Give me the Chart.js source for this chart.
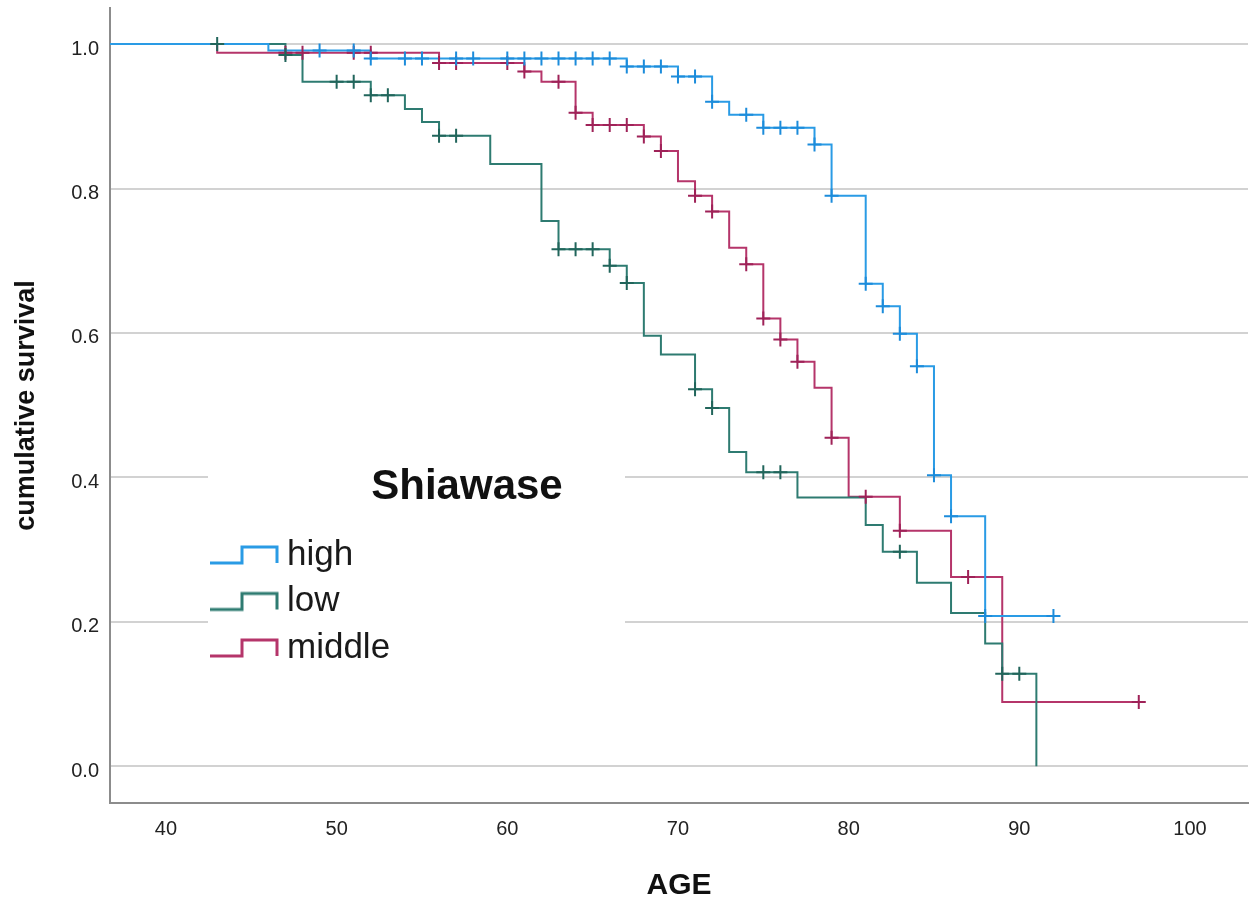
<!DOCTYPE html>
<html>
<head>
<meta charset="utf-8">
<script src="https://cdn.jsdelivr.net/npm/chart.js@4.4.1/dist/chart.umd.min.js"></script>
<style>
html,body{margin:0;padding:0;background:#fff;}
#wrap{width:1252px;height:901px;position:relative;}
</style>
</head>
<body>
<div id="wrap"><canvas id="c"></canvas></div>
<script>
// ---------- data ----------
const seriesNames = ['high', 'low', 'middle'];
const legendTitle = 'Shiawase';
const xTitle = 'AGE';
const yTitle = 'cumulative survival';

const highEventAges = [46, 52, 67, 70, 72, 73, 75, 78, 79, 81, 82, 83, 84, 85, 86, 88];
const highSurvival  = [0.991, 0.980, 0.969, 0.955, 0.920, 0.902, 0.884, 0.861, 0.790, 0.668, 0.637, 0.599, 0.554, 0.403, 0.346, 0.208];
const highCensorAges = [49, 51, 52, 54, 55, 57, 58, 60, 61, 62, 63, 64, 65, 66, 67, 68, 69, 70, 71, 72, 74, 75, 76, 77, 78, 79, 81, 82, 83, 84, 85, 86, 88, 92];

const lowEventAges = [47, 48, 52, 54, 55, 56, 59, 62, 63, 66, 67, 68, 69, 71, 72, 73, 74, 77, 81, 82, 84, 86, 88, 89, 91];
const lowSurvival  = [0.985, 0.948, 0.929, 0.910, 0.892, 0.873, 0.834, 0.755, 0.716, 0.693, 0.669, 0.596, 0.570, 0.522, 0.496, 0.435, 0.407, 0.372, 0.334, 0.297, 0.254, 0.212, 0.170, 0.128, 0.0];
const lowCensorAges = [43, 47, 50, 51, 52, 53, 56, 57, 63, 64, 65, 66, 67, 71, 72, 75, 76, 83, 89, 90];

const middleEventAges = [43, 56, 61, 62, 64, 65, 68, 69, 70, 71, 72, 73, 74, 75, 76, 77, 78, 79, 80, 83, 86, 89];
const middleSurvival  = [0.988, 0.974, 0.962, 0.948, 0.905, 0.888, 0.872, 0.852, 0.810, 0.790, 0.768, 0.718, 0.695, 0.620, 0.591, 0.560, 0.524, 0.455, 0.373, 0.326, 0.262, 0.089];
const middleCensorAges = [47, 48, 51, 52, 56, 57, 60, 61, 63, 64, 65, 66, 67, 68, 69, 71, 72, 74, 75, 76, 77, 79, 81, 83, 87, 97];

const xTickValues = [40, 50, 60, 70, 80, 90, 100];
const xTickLabels = ['40', '50', '60', '70', '80', '90', '100'];
const yTickValues = [0, 0.2, 0.4, 0.6, 0.8, 1.0];
const yTickLabels = ['0.0', '0.2', '0.4', '0.6', '0.8', '1.0'];
const xRange = [36.72, 103.4];
const yRange = [-0.051, 1.05];
const curveStartAge = 0;

// ---------- styles ----------
const lineColors = ['#2a9be5', '#2e7b71', '#b5356a'];
const censorColors = ['#1c8cdb', '#21655b', '#9f2258'];
const FONT = "'Liberation Sans', Arial, Helvetica, sans-serif";
Chart.defaults.font.family = FONT;

// ---------- helpers ----------
function survivalAt(ages, surv, t) {
  let s = 1;
  for (let i = 0; i < ages.length; i++) if (ages[i] <= t) s = surv[i];
  return s;
}
function curvePoints(ages, surv, censors) {
  const pts = [{x: curveStartAge, y: 1}];
  ages.forEach((a, i) => pts.push({x: a, y: surv[i]}));
  const lastC = Math.max(...censors);
  if (lastC > ages[ages.length - 1]) pts.push({x: lastC, y: surv[surv.length - 1]});
  return pts;
}
function censorPoints(ages, surv, censors) {
  return censors.map(a => ({x: a, y: survivalAt(ages, surv, a)}));
}
function stepIcon(color) {
  const c = document.createElement('canvas');
  c.width = 70; c.height = 22;
  const g = c.getContext('2d');
  g.strokeStyle = color; g.lineWidth = 3; g.lineJoin = 'miter';
  g.beginPath();
  g.moveTo(1, 19); g.lineTo(33, 19); g.lineTo(33, 3); g.lineTo(68, 3); g.lineTo(68, 19);
  g.stroke();
  return c;
}
const legendIcons = lineColors.map(stepIcon);

const groups = [
  [highEventAges, highSurvival, highCensorAges],
  [lowEventAges, lowSurvival, lowCensorAges],
  [middleEventAges, middleSurvival, middleCensorAges]
];

const datasets = [];
groups.forEach((g, i) => {
  datasets.push({
    type: 'line', label: seriesNames[i], data: curvePoints(g[0], g[1], g[2]),
    borderColor: lineColors[i], borderWidth: 2, pointRadius: 0, pointHoverRadius: 0,
    stepped: 'before', fill: false, tension: 0, order: 1
  });
});
groups.forEach((g, i) => {
  datasets.push({
    type: 'line', label: seriesNames[i] + ' censored', data: censorPoints(g[0], g[1], g[2]),
    showLine: false, pointStyle: 'cross', pointRadius: 7, pointHoverRadius: 7,
    pointBorderWidth: 2, borderColor: censorColors[i], pointBorderColor: censorColors[i],
    backgroundColor: censorColors[i], order: 0
  });
});

// ---------- legend placement (inside plot, over a white backdrop) ----------
const legendBox = {left: 207, top: 466, width: 520, height: 240};
const legendBackdrop = {left: 208, top: 455, right: 625, bottom: 690};
const placeLegend = {
  id: 'placeLegend',
  beforeLayout(chart) {
    const lg = chart.legend;
    if (lg) lg._layers = () => [{z: 1, draw: (area) => lg.draw(area)}];
  },
  afterLayout(chart) {
    const lg = chart.legend;
    if (!lg) return;
    lg.left = legendBox.left; lg.top = legendBox.top;
    lg.width = legendBox.width; lg.height = legendBox.height;
    lg.right = lg.left + lg.width; lg.bottom = lg.top + lg.height;
  },
  beforeDatasetsDraw(chart) {
    const ctx = chart.ctx;
    ctx.save();
    ctx.fillStyle = '#ffffff';
    ctx.fillRect(legendBackdrop.left, legendBackdrop.top,
      legendBackdrop.right - legendBackdrop.left, legendBackdrop.bottom - legendBackdrop.top);
    ctx.restore();
  }
};

function noScalePadding(s) {
  s.paddingTop = 0; s.paddingBottom = 0; s.paddingLeft = 0; s.paddingRight = 0;
}

new Chart(document.getElementById('c'), {
  type: 'line',
  data: {datasets},
  plugins: [placeLegend],
  options: {
    responsive: true,
    maintainAspectRatio: false,
    animation: false,
    events: [],
    layout: {autoPadding: false, padding: {left: 0, right: 4, top: 8, bottom: 0}},
    plugins: {
      tooltip: {enabled: false},
      legend: {
        display: true,
        position: 'chartArea',
        align: 'start',
        title: {
          display: true, text: legendTitle, color: '#111', position: 'center',
          font: {size: 42, weight: 'bold', lineHeight: 1, family: FONT},
          padding: {top: 0, bottom: 18}
        },
        labels: {
          usePointStyle: true, pointStyleWidth: 51, padding: 11.5,
          color: '#1a1a1a', font: {size: 35, family: FONT},
          generateLabels: () => seriesNames.map((n, i) => ({
            text: n, fillStyle: lineColors[i], strokeStyle: lineColors[i], lineWidth: 0,
            pointStyle: legendIcons[i], hidden: false, datasetIndex: i, fontColor: '#1a1a1a'
          }))
        }
      }
    },
    scales: {
      x: {
        type: 'linear', min: xRange[0], max: xRange[1],
        afterFit: s => { s.height = 98; noScalePadding(s); },
        afterBuildTicks: s => { s.ticks = xTickValues.map(v => ({value: v})); },
        ticks: {
          autoSkip: false, maxRotation: 0, padding: 14, color: '#222',
          font: {size: 20},
          callback: (v) => xTickLabels[xTickValues.indexOf(v)]
        },
        grid: {color: 'rgba(0,0,0,0)', drawTicks: false},
        border: {display: true, color: '#8c8c8c', width: 2},
        title: {
          display: true, text: xTitle, color: '#111',
          font: {size: 30, weight: 'bold', lineHeight: 1},
          padding: {top: 0, bottom: 0}
        }
      },
      y: {
        type: 'linear', min: yRange[0], max: yRange[1],
        afterFit: s => { s.width = 110; noScalePadding(s); },
        afterBuildTicks: s => { s.ticks = yTickValues.map(v => ({value: v})); },
        ticks: {
          autoSkip: false, padding: 11, labelOffset: 5, color: '#222',
          font: {size: 20},
          callback: (v) => yTickLabels[yTickValues.findIndex(t => Math.abs(t - v) < 1e-9)]
        },
        grid: {color: '#d2d2d2', lineWidth: 2, drawTicks: false},
        border: {display: true, color: '#8c8c8c', width: 2},
        title: {
          display: true, text: yTitle, color: '#111',
          font: {size: 27, weight: 'bold', lineHeight: 1},
          padding: {top: 13.5, bottom: 0}
        }
      }
    }
  }
});
</script>
</body>
</html>
